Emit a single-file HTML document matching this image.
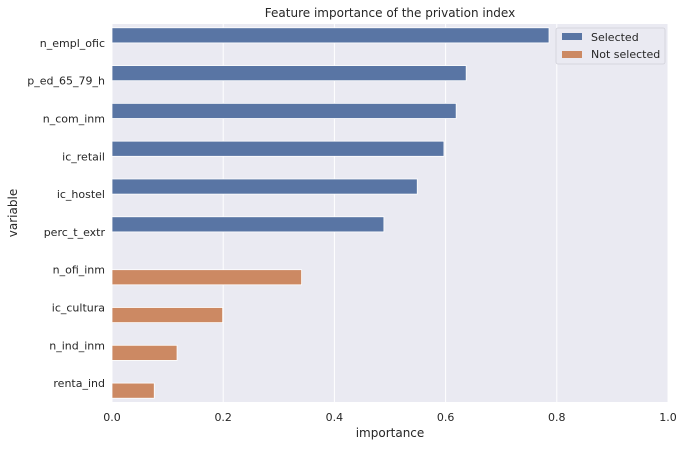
<!DOCTYPE html>
<html><head><meta charset="utf-8"><style>
body{margin:0;background:#fff;font-family:"Liberation Sans","DejaVu Sans",sans-serif;}
svg text{font-family:"DejaVu Sans","Liberation Sans",sans-serif;fill:#262626;}
</style></head><body>
<svg id="chart" width="685" height="447" xmlns="http://www.w3.org/2000/svg"></svg>
<script>
const categories=["n_empl_ofic","p_ed_65_79_h","n_com_inm","ic_retail","ic_hostel","perc_t_extr","n_ofi_inm","ic_cultura","n_ind_inm","renta_ind"];
const selectedValues=[0.786,0.637,0.619,0.597,0.549,0.489,null,null,null,null];
const notSelectedValues=[null,null,null,null,null,null,0.341,0.199,0.117,0.076];
const xTicks=[0,0.2,0.4,0.6,0.8,1.0];
const xTickLabels=["0.0","0.2","0.4","0.6","0.8","1.0"];
const L=112,R=668,T=24,B=402;
const svg=document.getElementById('chart');
const NS="http://www.w3.org/2000/svg";
function x(v){return L+(R-L)*v;}
const band=(B-T)/categories.length;
function yc(i){return T+band*(i+0.5);}
function mk(t,a,p){const e=document.createElementNS(NS,t);for(const k in a)e.setAttribute(k,a[k]);(p||svg).appendChild(e);return e;}
const bg=mk('rect',{x:L,y:T,width:R-L,height:B-T,fill:'#eaeaf2'});


xTicks.forEach((v,i)=>{
 const g=mk('line',{x1:x(v),x2:x(v),y1:T,y2:B,stroke:'#fff','stroke-width':1});
 
 
 const t=mk('text',{x:x(v),y:B+19,'font-size':11,'text-anchor':'middle'});
 t.textContent=xTickLabels[i];
 
 
});
const bw=band*0.4;
categories.forEach((c,i)=>{
 const t=mk('text',{x:L-7,y:yc(i)+4,'font-size':11,'text-anchor':'end'});
 t.textContent=c;
 
 
 if(selectedValues[i]!=null){
  const r=mk('rect',{x:L,y:yc(i)-bw,width:x(selectedValues[i])-L,height:bw,fill:'#5975a4',stroke:'#fff','stroke-width':0.8});
  
  
 }
 if(notSelectedValues[i]!=null){
  const r=mk('rect',{x:L,y:yc(i),width:x(notSelectedValues[i])-L,height:bw,fill:'#cc8963',stroke:'#fff','stroke-width':0.8});
  
  
 }
});
</script>
<svg style="position:absolute;left:0;top:0" width="685" height="447" xmlns="http://www.w3.org/2000/svg">
<text x="390" y="17" font-size="12" text-anchor="middle" font-family="DejaVu Sans, sans-serif" fill="#262626">Feature importance of the privation index</text>
<text x="390" y="437" font-size="12" text-anchor="middle" font-family="DejaVu Sans, sans-serif" fill="#262626">importance</text>
<text x="17" y="213" font-size="12" text-anchor="middle" font-family="DejaVu Sans, sans-serif" fill="#262626" transform="rotate(-90 17 213)">variable</text>
<g>
<rect x="556" y="28" width="109" height="36" rx="2" fill="#eaeaf2" stroke="#d0d0d8" stroke-width="0.8"/>
<rect x="562" y="33" width="20" height="7" fill="#5975a4"/>
<text x="591" y="41" font-size="11" font-family="DejaVu Sans, sans-serif" fill="#262626">Selected</text>
<rect x="562" y="51" width="20" height="7" fill="#cc8963"/>
<text x="591" y="58" font-size="11" font-family="DejaVu Sans, sans-serif" fill="#262626">Not selected</text>
</g>
</svg>
</body></html>
